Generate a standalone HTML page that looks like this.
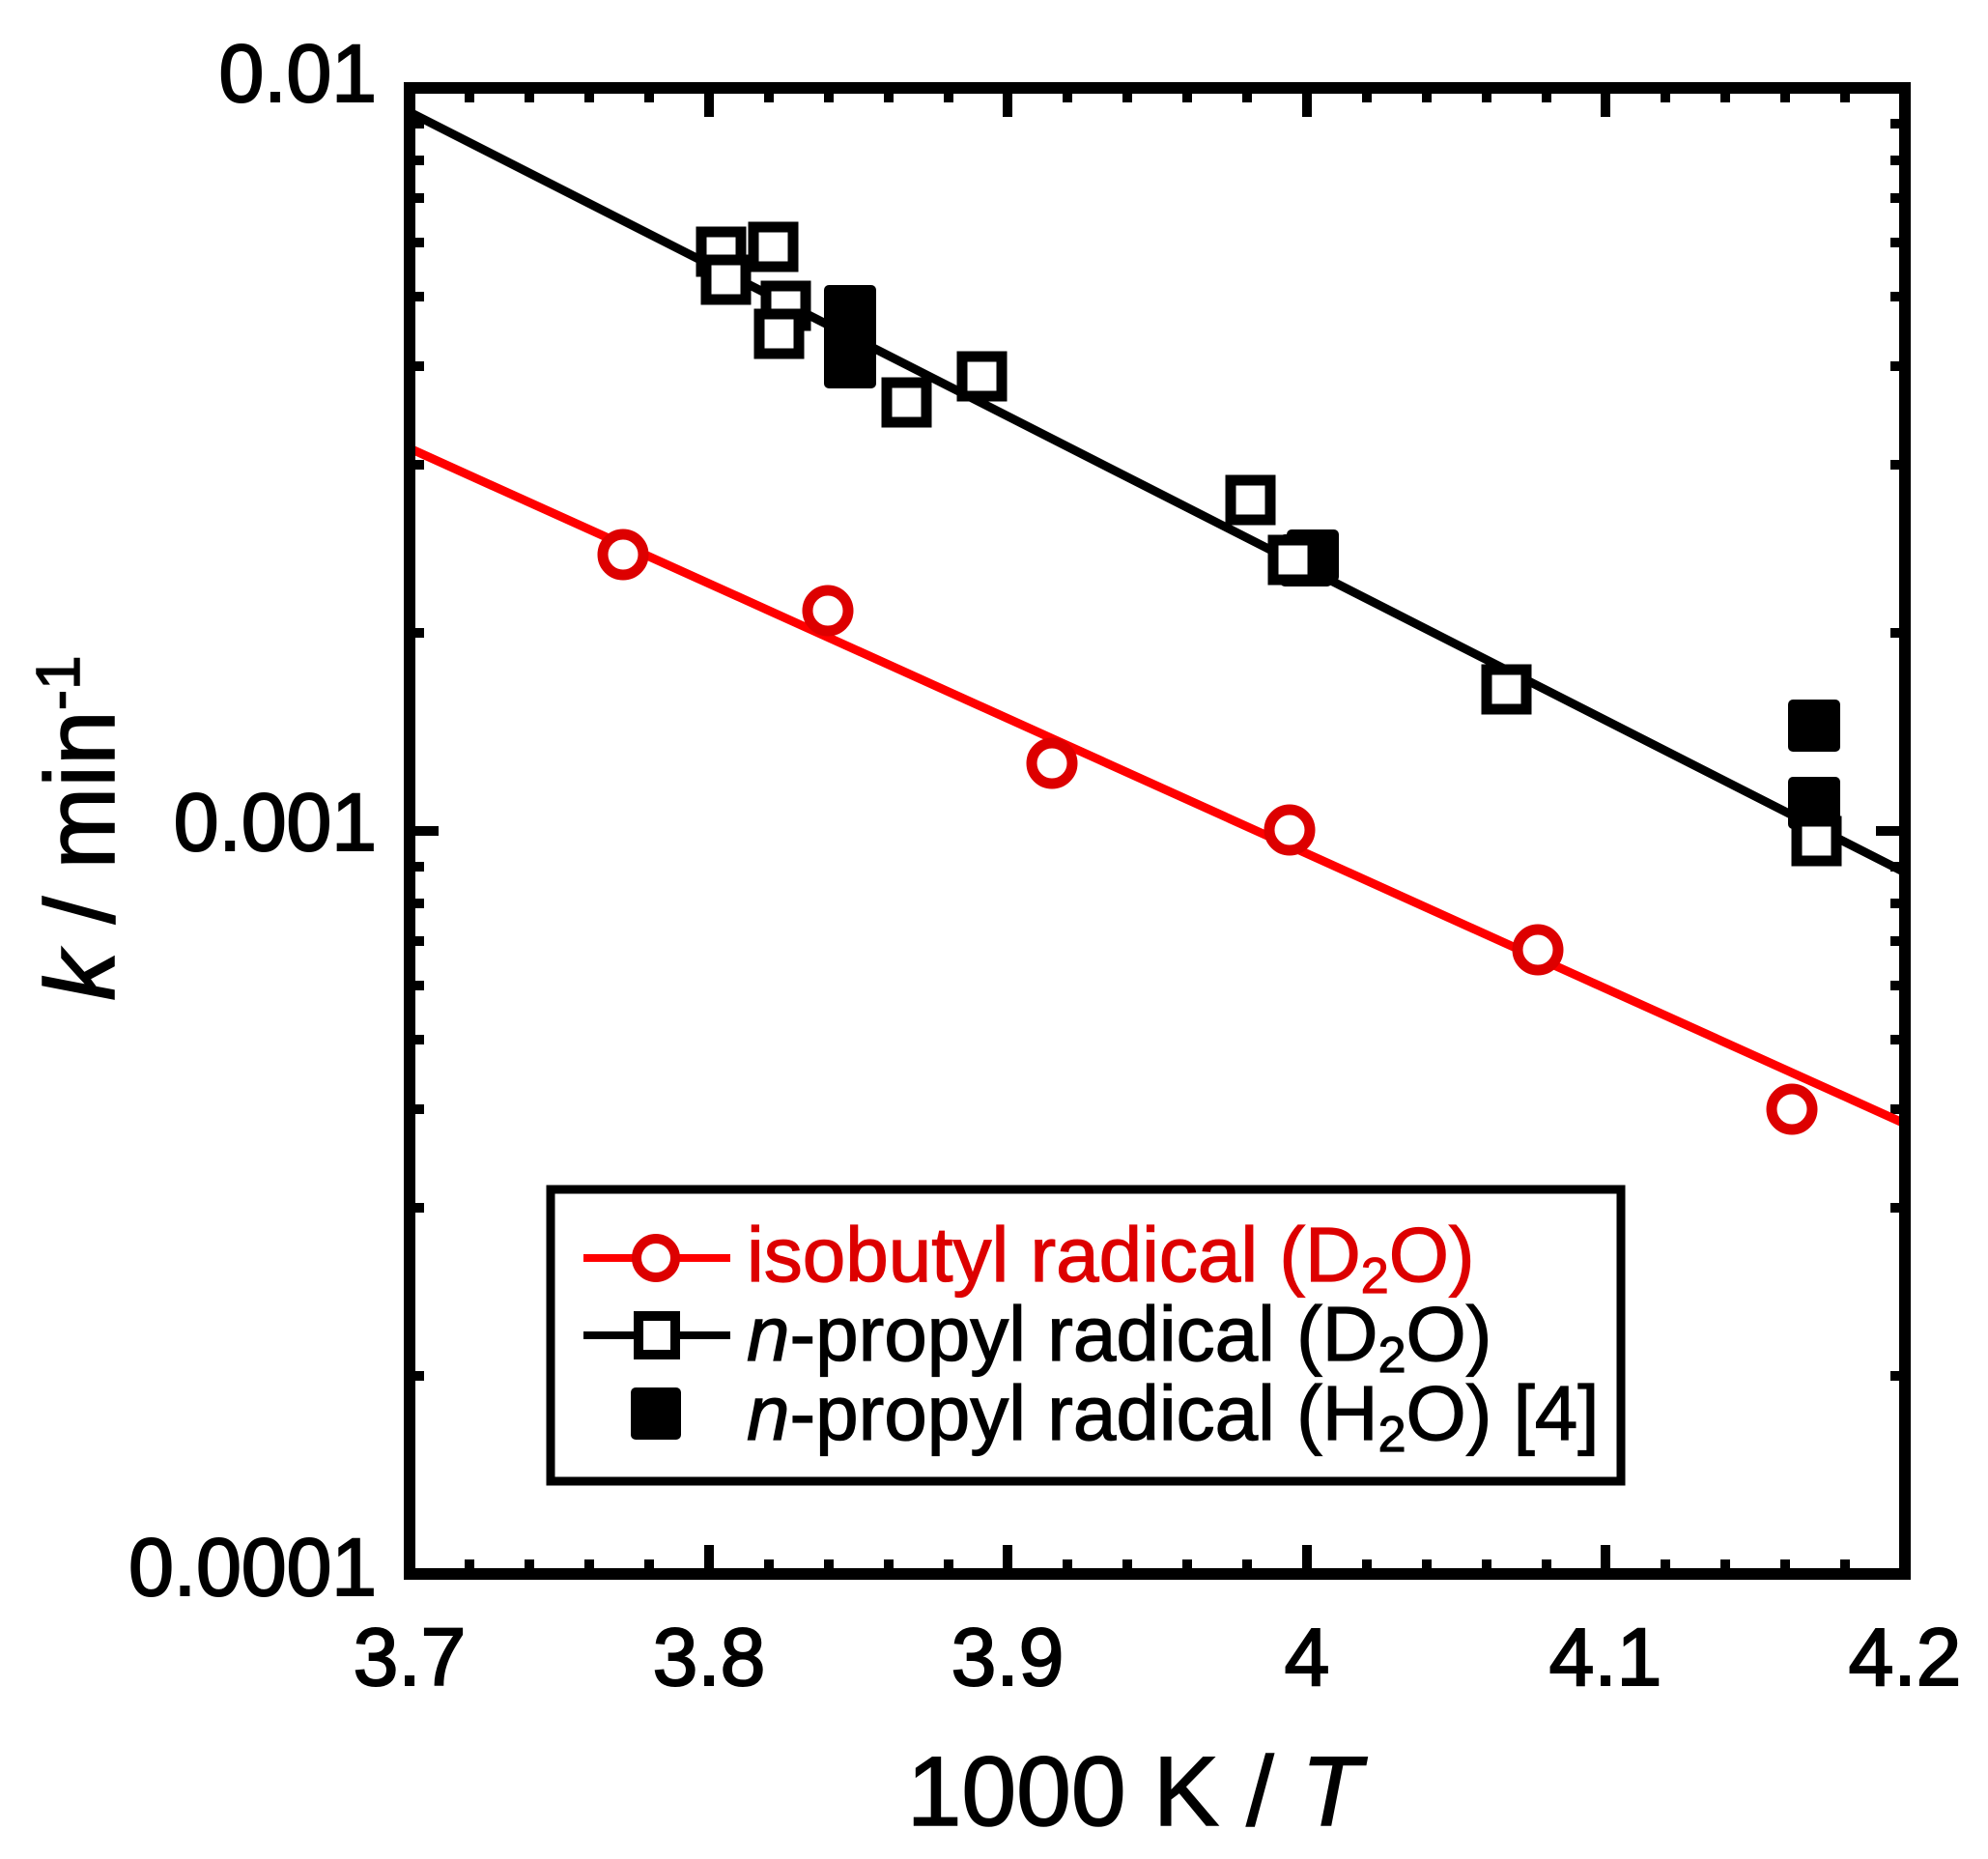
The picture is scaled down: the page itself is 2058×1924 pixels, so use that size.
<!DOCTYPE html>
<html><head><meta charset="utf-8"><style>html,body{margin:0;padding:0;background:#fff}svg{display:block}</style></head>
<body>
<svg width="2058" height="1924" viewBox="0 0 2058 1924" xmlns="http://www.w3.org/2000/svg" font-family="Liberation Sans, Arial, sans-serif">
<rect width="2058" height="1924" fill="#fff"/>
<g stroke="#000" stroke-width="10" id="ticks">
<path d="M424,1629v-30M734,1629v-30M1043,1629v-30M1353,1629v-30M1662,1629v-30M1972,1629v-30
M424,91v30M734,91v30M1043,91v30M1353,91v30M1662,91v30M1972,91v30
M486,1629v-15M548,1629v-15M610,1629v-15M672,1629v-15M796,1629v-15M858,1629v-15M920,1629v-15M982,1629v-15M1105,1629v-15M1167,1629v-15M1229,1629v-15M1291,1629v-15M1415,1629v-15M1477,1629v-15M1539,1629v-15M1601,1629v-15M1724,1629v-15M1786,1629v-15M1848,1629v-15M1910,1629v-15
M486,91v15M548,91v15M610,91v15M672,91v15M796,91v15M858,91v15M920,91v15M982,91v15M1105,91v15M1167,91v15M1229,91v15M1291,91v15M1415,91v15M1477,91v15M1539,91v15M1601,91v15M1724,91v15M1786,91v15M1848,91v15M1910,91v15"/>
<path d="M424,860h30M1972,860h-30"/>
<path d="M424,128h15M424,166h15M424,205h15M424,251h15M424,307h15M424,379h15M424,481h15M424,655h15
M1972,128h-15M1972,166h-15M1972,205h-15M1972,251h-15M1972,307h-15M1972,379h-15M1972,481h-15M1972,655h-15
M424,897h15M424,935h15M424,974h15M424,1020h15M424,1076h15M424,1148h15M424,1250h15M424,1424h15
M1972,897h-15M1972,935h-15M1972,974h-15M1972,1020h-15M1972,1076h-15M1972,1148h-15M1972,1250h-15M1972,1424h-15"/>
</g>
<line x1="424" y1="116" x2="1972" y2="903" stroke="#000" stroke-width="9"/>
<line x1="424" y1="464" x2="1972" y2="1163" stroke="#ff0000" stroke-width="9"/>
<g fill="#000">
<rect x="853" y="295" width="54" height="54" rx="5"/>
<rect x="853" y="348" width="54" height="54" rx="5"/>
<rect x="853" y="321" width="54" height="54" rx="5"/>
<rect x="1332" y="548" width="54" height="54" rx="5"/>
<rect x="1325" y="553" width="54" height="54" rx="5"/>
<rect x="1851" y="724" width="54" height="54" rx="5"/>
<rect x="1851" y="804" width="54" height="54" rx="5"/>
</g>
<g fill="#fff" stroke="#000" stroke-width="11">
<rect x="726" y="240" width="41" height="41"/>
<rect x="731" y="269" width="41" height="41"/>
<rect x="780" y="235" width="41" height="41"/>
<rect x="793" y="296" width="41" height="41"/>
<rect x="786" y="325" width="41" height="41"/>
<rect x="918" y="396" width="41" height="41"/>
<rect x="996" y="369" width="41" height="41"/>
<rect x="1274" y="497" width="41" height="41"/>
<rect x="1318" y="559" width="41" height="41"/>
<rect x="1539" y="693" width="41" height="41"/>
<rect x="1860" y="850" width="41" height="41"/>
</g>
<g fill="#fff" stroke="#dd0000" stroke-width="11">
<circle cx="645" cy="574" r="21"/>
<circle cx="857" cy="632" r="21"/>
<circle cx="1089" cy="790" r="21"/>
<circle cx="1335" cy="859" r="21"/>
<circle cx="1592" cy="983" r="21"/>
<circle cx="1855" cy="1148" r="21"/>
</g>
<rect x="424" y="91" width="1548" height="1538" fill="none" stroke="#000" stroke-width="12"/>
<g font-size="84" fill="#000" stroke="#000" stroke-width="2">
<text x="390" y="105" text-anchor="end">0.01</text>
<text x="390" y="880" text-anchor="end">0.001</text>
<text x="390" y="1651" text-anchor="end">0.0001</text>
<g text-anchor="middle">
<text x="424" y="1744">3.7</text>
<text x="734" y="1744">3.8</text>
<text x="1043" y="1744">3.9</text>
<text x="1353" y="1744">4</text>
<text x="1662" y="1744">4.1</text>
<text x="1972" y="1744">4.2</text>
</g>
</g>
<text x="1174" y="1889" font-size="102" text-anchor="middle" stroke="#000" stroke-width="1.5">1000 K / <tspan font-style="italic">T</tspan></text>
<text transform="translate(118,857) rotate(-90)" font-size="102" text-anchor="middle" stroke="#000" stroke-width="1.5"><tspan font-style="italic">k</tspan> / min<tspan font-size="64" dy="-36">-1</tspan></text>
<rect x="570" y="1231" width="1108" height="302" fill="#fff" stroke="#000" stroke-width="9"/>
<line x1="604" y1="1302" x2="756" y2="1302" stroke="#ff0000" stroke-width="8"/>
<circle cx="679" cy="1302" r="20" fill="#fff" stroke="#dd0000" stroke-width="10"/>
<line x1="604" y1="1382" x2="756" y2="1382" stroke="#000" stroke-width="8"/>
<rect x="661" y="1362" width="38" height="40" fill="#fff" stroke="#000" stroke-width="10"/>
<rect x="653" y="1436" width="52" height="54" rx="5" fill="#000"/>
<g font-size="80" stroke-width="1.2">
<text x="773" y="1326" fill="#dd0000" stroke="#dd0000">isobutyl radical (D<tspan font-size="52" dy="12">2</tspan><tspan dy="-12">O)</tspan></text>
<text x="773" y="1408" fill="#000" stroke="#000"><tspan font-style="italic">n</tspan>-propyl radical (D<tspan font-size="52" dy="12">2</tspan><tspan dy="-12">O)</tspan></text>
<text x="773" y="1490" fill="#000" stroke="#000"><tspan font-style="italic">n</tspan>-propyl radical (H<tspan font-size="52" dy="12">2</tspan><tspan dy="-12">O) [4]</tspan></text>
</g>
</svg>
</body></html>
